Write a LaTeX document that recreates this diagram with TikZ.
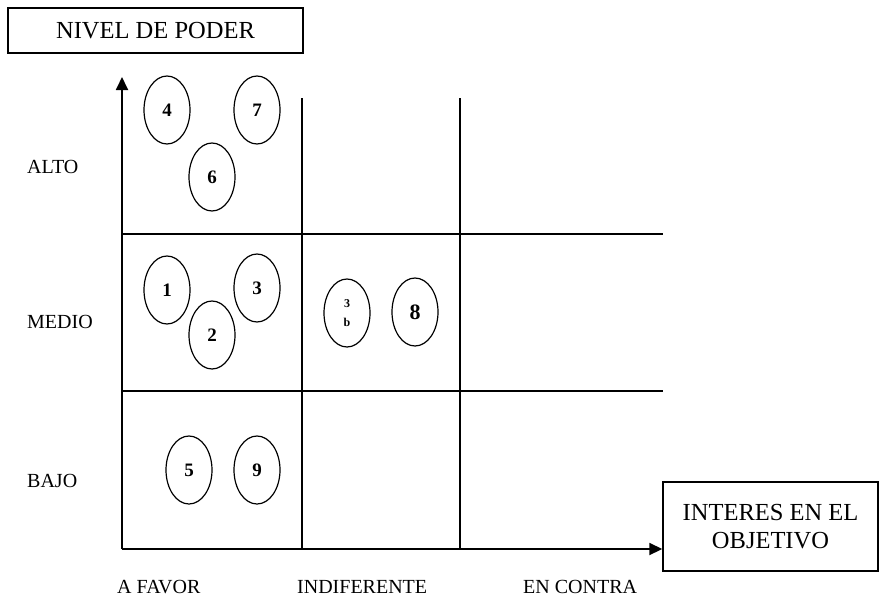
\documentclass[tikz,border=0pt]{standalone}
\usepackage{fontspec}
\setmainfont{Liberation Serif}
\usetikzlibrary{shapes.geometric,arrows.meta}
\begin{document}
\begin{tikzpicture}[x=1pt,y=-1pt,
  boxtxt/.style={font=\fontsize{24.5}{28}\selectfont},
  lbl/.style={font=\fontsize{20}{24}\selectfont, inner sep=0pt},
  grid/.style={line width=1.4pt},
  axis/.style={line width=1.8pt,-{Triangle[length=13pt,width=12pt]}},
  actor/.style={ellipse, draw, line width=1.2pt, minimum width=46pt, minimum height=68pt, inner sep=0pt, font=\bfseries\fontsize{19}{21}\selectfont}
]
\useasboundingbox (0,0) rectangle (879,600);
% title box
\node[draw, line width=1.4pt, minimum width=295pt, minimum height=45pt, inner sep=0pt, boxtxt] (title) at (155.5,30.5) {NIVEL DE PODER};
% objective box
\node[draw, line width=1.4pt, minimum width=215pt, minimum height=89pt, inner sep=0pt, align=center, boxtxt] (obj) at (770.5,526.5) {INTERES EN EL\\OBJETIVO};
% axes
\coordinate (O) at (122,549);
\coordinate (ytop) at (122,77);
\draw[axis] (O) -- (ytop);
\draw[axis] (O) -- (obj.west |- O);
% grid
\coordinate (v1t) at (302,98); \coordinate (v1b) at (302,549);
\coordinate (v2t) at (460,98); \coordinate (v2b) at (460,549);
\coordinate (h1l) at (122,234); \coordinate (h1r) at (663,234);
\coordinate (h2l) at (122,391); \coordinate (h2r) at (663,391);
\draw[grid] (v1t) -- (v1b);
\draw[grid] (v2t) -- (v2b);
\draw[grid] (h1l) -- (h1r);
\draw[grid] (h2l) -- (h2r);
% row labels
\node[lbl, anchor=west] (alto) at (27,167) {ALTO};
\node[lbl, anchor=west] (medio) at (27,322) {MEDIO};
\node[lbl, anchor=west] (bajo) at (27,481) {BAJO};
% column labels
\node[lbl, anchor=base west] (favor) at (117,593) {A FAVOR};
\node[lbl, anchor=base west] (indif) at (297,593) {INDIFERENTE};
\node[lbl, anchor=base west] (contra) at (523,593) {EN CONTRA};
% actors
\node[actor] (a4) at (167,110) {4};
\node[actor] (a7) at (257,110) {7};
\node[actor] (a6) at (212,177) {6};
\node[actor] (a1) at (167,290) {1};
\node[actor] (a3) at (257,288) {3};
\node[actor] (a2) at (212,335) {2};
\node[actor, align=center, font=\bfseries\fontsize{12}{19}\selectfont] (a3b) at (347,313) {3\\b};
\node[actor, font=\bfseries\fontsize{22}{24}\selectfont] (a8) at (415,312) {8};
\node[actor] (a5) at (189,470) {5};
\node[actor] (a9) at (257,470) {9};
\end{tikzpicture}
\end{document}
